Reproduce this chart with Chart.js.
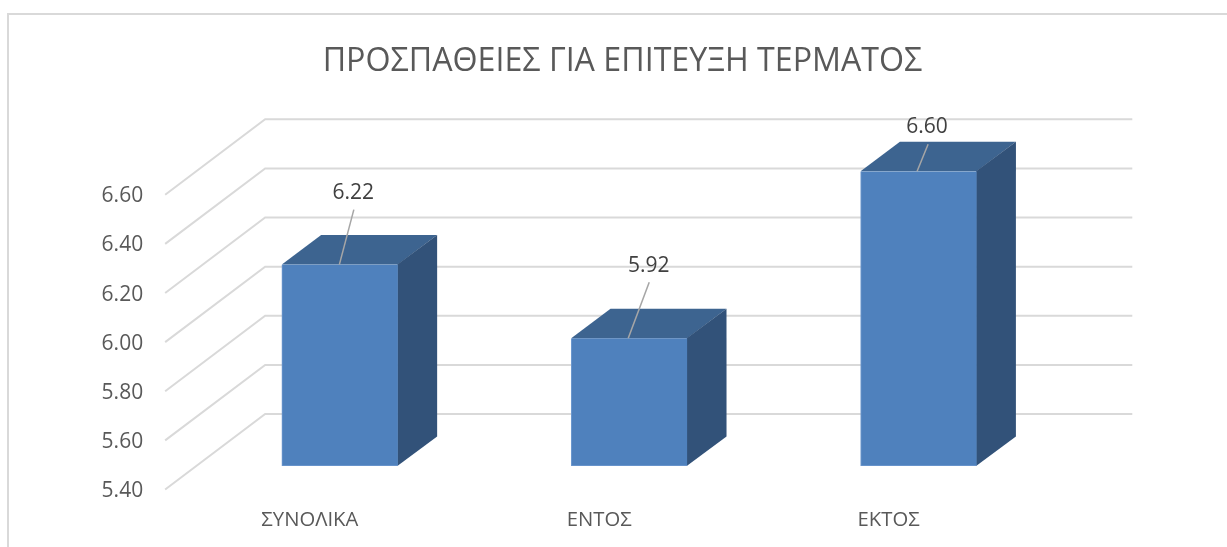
<!DOCTYPE html>
<html>
<head>
<meta charset="utf-8">
<style>html,body{margin:0;padding:0;background:#fff;overflow:hidden}#w{position:relative;width:1227px;height:547px}</style>
<script src="https://cdn.jsdelivr.net/npm/chart.js@4"></script>
</head>
<body>
<div id="w"><canvas id="c"></canvas></div>
<script>
const titleText = 'ΠΡΟΣΠΑΘΕΙΕΣ ΓΙΑ ΕΠΙΤΕΥΞΗ ΤΕΡΜΑΤΟΣ';
const categories = ['ΣΥΝΟΛΙΚΑ', 'ΕΝΤΟΣ', 'ΕΚΤΟΣ'];
const values = [6.22, 5.92, 6.60];
const yMin = 5.4, yMax = 6.6, yStep = 0.2;

const FONT = '"Open Sans", sans-serif';
const depthX = 39.3, depthY = 29.5;
const leaders = [
  {fx: -0.5, fy: 0, tx: 14, ty: -55, lx: 13.5, ly: -72},
  {fx: -1, fy: 0, tx: 20, ty: -56, lx: 19.5, ly: -72},
  {fx: -1.5, fy: 0, tx: 9.5, ty: -27, lx: 8.5, ly: -44}
];

const scene3d = {
  id: 'scene3d',
  beforeDraw(chart) {
    const c = chart.ctx;
    c.save();
    c.strokeStyle = '#d9d9d9'; c.lineWidth = 2;
    c.beginPath(); c.moveTo(8, 547); c.lineTo(8, 14); c.lineTo(1227, 14); c.stroke();
    c.restore();
  },
  beforeDatasetsDraw(chart) {
    const c = chart.ctx, y = chart.scales.y, a = chart.chartArea;
    c.save();
    c.strokeStyle = '#d9d9d9'; c.lineWidth = 2;
    y.ticks.forEach(t => {
      const p = y.getPixelForValue(t.value);
      c.beginPath();
      c.moveTo(a.left - 30, p + 23.5);
      c.lineTo(a.left + 70, p - 52);
      c.lineTo(a.right + 69, p - 52);
      c.stroke();
    });
    const bars = chart.getDatasetMeta(0).data;
    bars.forEach(b => {
      const l = b.x - b.width / 2, r = b.x + b.width / 2, t = b.y, m = b.base;
      c.fillStyle = '#3d6490';
      c.beginPath(); c.moveTo(l, t); c.lineTo(l + depthX, t - depthY); c.lineTo(r + depthX, t - depthY); c.lineTo(r, t); c.closePath(); c.fill();
      c.fillStyle = '#325279';
      c.beginPath(); c.moveTo(r - 0.5, t); c.lineTo(r + depthX, t - depthY); c.lineTo(r + depthX, m - depthY); c.lineTo(r - 0.5, m); c.closePath(); c.fill();
    });
    c.restore();
  },
  afterDatasetsDraw(chart) {
    const c = chart.ctx;
    const bars = chart.getDatasetMeta(0).data;
    c.save();
    bars.forEach((b, i) => {
      const o = leaders[i];
      c.strokeStyle = '#a6a6a6'; c.lineWidth = 1.5;
      c.beginPath(); c.moveTo(b.x + o.fx, b.y + o.fy); c.lineTo(b.x + o.tx, b.y + o.ty); c.stroke();
      c.fillStyle = '#404040';
      c.font = '21px ' + FONT;
      c.textAlign = 'center'; c.textBaseline = 'middle';
      c.fillText(values[i].toFixed(2), b.x + o.lx, b.y + o.ly);
    });
    c.restore();
  }
};

new Chart(document.getElementById('c'), {
  type: 'bar',
  data: {
    labels: categories,
    datasets: [{
      data: values,
      base: yMin,
      backgroundColor: '#4f81bd',
      borderColor: '#6f9ad0',
      borderWidth: {bottom: 1, left: 1},
      borderSkipped: false,
      barThickness: 116
    }]
  },
  options: {
    responsive: true,
    maintainAspectRatio: false,
    animation: false,
    layout: {padding: {left: 18, right: 0, top: 0, bottom: 0}},
    plugins: {
      legend: {display: false},
      tooltip: {enabled: false},
      title: {
        display: true,
        text: titleText,
        color: '#595959',
        font: {family: FONT, size: 32.2, weight: 'normal'},
        padding: {top: 43, bottom: 89.66},
        align: 'center',
        fullSize: true
      }
    },
    scales: {
      x: {
        offset: true,
        grid: {display: false, drawTicks: false},
        border: {display: false},
        ticks: {color: '#595959', font: {family: FONT, size: 20.3}, padding: 42, labelOffset: -30, maxRotation: 0},
        afterFit(s) { s.height = 81; }
      },
      y: {
        min: yMin, max: yMax,
        grid: {display: false, drawTicks: false},
        border: {display: false},
        ticks: {
          stepSize: yStep, color: '#595959', font: {family: FONT, size: 21}, padding: 52, labelOffset: 25,
          callback: v => Number(v).toFixed(2)
        },
        afterFit(s) { s.width = 177.15; }
      },
      spacer: {
        position: 'right',
        grid: {display: false, drawTicks: false},
        border: {display: false},
        ticks: {display: false},
        afterFit(s) { s.width = 163.7; }
      }
    }
  },
  plugins: [scene3d]
});
</script>
</body>
</html>
